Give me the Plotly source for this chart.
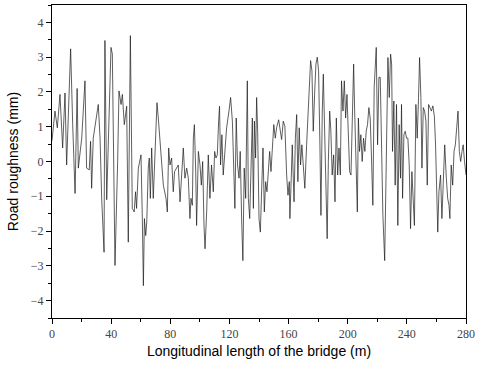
import plotly.graph_objects as go

# Longitudinal position along the bridge (m) and road roughness (mm)
position_m = [
    0, 2.0, 3.6, 5.4, 7.2, 8.8, 9.9, 11.0, 12.6, 14.0, 15.6, 17.0, 17.8, 20.1, 22.3, 23.4,
    25.2, 26.1, 26.8, 27.9, 29.5, 31.3, 32.5, 33.6, 35.2, 35.8, 37.0, 38.1, 39.9, 40.8,
    42.1, 42.6, 44.4, 45.3, 46.7, 47.6, 48.9, 50.5, 51.6, 53.0, 54.3, 55.6, 56.5, 57.2,
    58.4, 59.3, 60.2, 61.1, 61.8, 62.5, 63.4, 64.1, 65.1, 65.8, 66.5, 67.4, 68.5, 69.2,
    70.1, 71.0, 71.9, 73.0, 74.2, 75.3, 77.1, 78.0, 78.9, 79.8, 80.9, 82.0, 82.9, 84.3,
    85.4, 86.6, 87.7, 88.8, 89.9, 91.1, 92.2, 93.3, 94.0, 94.9, 95.6, 96.3, 97.2, 97.8,
    99.0, 100.1, 101.0, 101.9, 102.8, 103.5, 104.6, 105.7, 106.8, 107.9, 109.1, 110.0,
    110.9, 111.8, 112.7, 113.3, 114.0, 114.9, 115.8, 117.0, 118.1, 119.7, 120.8, 122.0,
    122.8, 123.7, 124.6, 125.5, 126.5, 127.3, 128.3, 129.1, 130.0, 131.0, 132.1, 132.8,
    133.7, 134.6, 135.5, 136.2, 136.9, 137.7, 138.4, 139.1, 140.0, 140.9, 141.8, 142.7,
    143.6, 144.5, 145.4, 146.3, 147.2, 148.1, 149.0, 150.0, 151.0, 151.9, 153.3, 154.2,
    155.3, 156.4, 157.5, 158.7, 159.6, 160.5, 160.9, 161.8, 162.5, 163.7, 164.6, 165.5,
    166.3, 167.2, 168.1, 169.0, 169.9, 171.0, 172.2, 173.3, 174.0, 174.9, 175.8, 176.7,
    177.6, 178.5, 179.4, 180.3, 181.2, 181.9, 182.8, 183.5, 184.4, 185.3, 186.1, 186.9,
    187.8, 188.6, 189.5, 190.5, 191.4, 192.3, 193.2, 194.1, 195.0, 195.8, 196.8, 197.7,
    198.6, 199.5, 200.4, 201.3, 202.2, 203.1, 204.0, 204.7, 205.6, 206.5, 207.2, 208.0,
    208.9, 209.8, 210.7, 211.6, 212.5, 213.4, 214.3, 215.2, 216.1, 217.0, 217.9, 218.8,
    219.3, 220.2, 221.1, 222.0, 222.9, 223.8, 225.0, 226.3, 227.2, 228.1, 229.0, 229.7,
    230.3, 231.2, 232.1, 233.0, 233.9, 234.8, 235.7, 236.4, 237.1, 238.0, 238.9, 239.8,
    240.7, 241.6, 242.5, 243.4, 244.3, 245.1, 246.1, 247.0, 247.9, 248.6, 249.5, 250.2,
    251.1, 252.0, 252.9, 253.8, 254.7, 255.6, 256.6, 257.6, 258.6, 259.4, 260.1, 260.9,
    261.7, 262.8, 263.7, 264.6, 265.6, 266.7, 267.6, 268.5, 269.1, 270.0, 271.0, 271.9,
    272.8, 273.7, 274.6, 275.5, 276.4, 277.3, 278.1, 279.0, 280.0,
]
roughness_mm = [
    0.6, 1.45, 0.97, 1.93, 0.39, 1.97, -0.1, 1.16, 3.24, 1.06, -0.92, 2.1, -0.19, 0.67, 2.32, -0.19,
    -0.24, 0.58, -0.77, 0.67, 1.16, 1.64, 0.67, -1.06, -2.61, 3.48, -1.1, 0.67, 3.28, 3.09,
    -2.22, -2.99, 0.0, 2.03, 1.64, 1.93, 1.06, 1.59, -2.32, 3.62, -1.35, -1.45, -0.87, -1.35,
    -0.19, 0.0, 0.19, -1.64, -3.57, -1.64, -2.13, -1.74, -0.19, 0.1, -1.06, 0.39, -1.06, -0.29,
    1.06, 1.69, 1.25, 0.67, 0.1, -0.68, -1.06, -1.45, 0.39, -0.1, 0.1, -0.87, -0.29, -0.19,
    -0.1, -1.16, -0.48, 0.39, -0.48, -0.19, -0.48, -1.64, -1.06, -1.26, 0.67, 1.06, -0.29, -1.84,
    0.29, -0.1, -0.68, 0.0, -1.84, -2.51, -1.45, 0.19, -1.06, -0.1, -0.87, 0.29,
    0.1, 0.19, 1.16, 1.59, -0.1, 0.77, -0.39, 0.48, 0.97, 1.45, 1.84, 1.16,
    0.19, -1.35, 1.25, -0.1, -0.48, 0.29, -1.74, -2.85, -0.19, -1.06, 2.32, -1.06,
    -1.64, 0.29, 1.25, -1.35, 1.16, 0.1, 1.84, 0.87, -1.64, -2.03, -0.39, 0.39,
    -1.45, -0.58, -0.87, -0.1, 0.29, -0.29, 0.48, 1.06, 0.67, 0.97, 1.2, 0.87,
    0.63, 1.16, 1.01, -0.39, -0.97, -0.58, -1.64, -0.48, 0.48, -1.16, 0.67, 1.35,
    -0.58, 0.97, -0.1, 0.48, -0.19, -0.77, 0.48, 1.35, 1.84, 2.9, 2.61, 0.87,
    1.93, 2.8, 3.0, 2.61, 0.48, -1.55, 1.45, 2.51, 0.87, -1.06, -2.22, 0.0,
    1.45, 0.87, -0.39, 0.19, -1.16, 1.25, -0.39, 0.39, -0.39, 2.32, 1.45, 2.32,
    1.25, 1.93, 0.58, -0.29, -0.39, 1.25, 2.8, 1.45, -0.1, -1.45, 1.25, 0.29,
    0.77, 0.0, 0.67, 0.29, 0.87, 1.06, 1.55, 1.25, 0.1, -1.26, 2.13, 2.9,
    3.28, 0.48, 2.42, 2.42, 0.67, -1.55, -2.85, 0.48, 2.99, 1.84, 3.09, 2.8,
    0.29, 1.74, -0.68, 1.64, -1.84, 1.06, -0.48, 1.64, -1.06, 0.77, 0.87, 0.67,
    0.67, -0.1, -1.93, -0.29, -1.45, -1.84, 1.64, 0.67, 1.84, 2.99, 1.84, -0.19,
    1.55, 1.45, 1.16, -0.68, 1.64, 1.55, 1.45, 1.6, 1.3, 0.5, -1.2, -2.03,
    -0.87, -0.39, -1.64, -0.68, 0.48, -0.48, -1.06, -1.26, -1.64, -0.1, -0.68, 0.29,
    0.48, 0.97, 1.45, 0.29, 0.0, 0.29, 0.48, 0.0, -0.39,
]

x_ticks = [0, 40, 80, 120, 160, 200, 240, 280]
y_ticks = [-4, -3, -2, -1, 0, 1, 2, 3, 4]

fig = go.Figure(
    go.Scatter(
        x=position_m,
        y=roughness_mm,
        mode="lines",
        line=dict(color="#1a1a1a", width=0.7),
        hoverinfo="skip",
    )
)

tick_font = dict(family="Liberation Serif, DejaVu Serif, serif", size=12, color="#444444")
title_font = dict(family="Liberation Sans, Arial, sans-serif", size=14, color="black")

fig.update_layout(
    width=482,
    height=366,
    margin=dict(l=52, r=16, t=5, b=48),
    paper_bgcolor="white",
    plot_bgcolor="white",
    showlegend=False,
    xaxis=dict(
        range=[0, 280],
        tickvals=x_ticks,
        ticktext=[str(v) for v in x_ticks],
        ticks="outside",
        ticklen=5,
        tickwidth=1,
        tickcolor="black",
        minor=dict(dtick=20, tick0=0, ticks="outside", ticklen=3, tickcolor="black"),
        showline=True,
        linecolor="black",
        linewidth=1,
        mirror=True,
        showgrid=False,
        zeroline=False,
        tickfont=tick_font,
        title=dict(text="Longitudinal length of the bridge (m)", font=title_font, standoff=5),
    ),
    yaxis=dict(
        range=[-4.5, 4.5],
        tickvals=y_ticks,
        ticks="outside",
        ticklen=5,
        tickwidth=1,
        tickcolor="black",
        minor=dict(dtick=0.5, tick0=0, ticks="outside", ticklen=3, tickcolor="black"),
        showline=True,
        linecolor="black",
        linewidth=1,
        mirror=True,
        showgrid=False,
        zeroline=False,
        tickfont=tick_font,
        title=dict(text="Road roughness (mm)", font=title_font, standoff=8),
    ),
)

fig.write_html("out.html")
